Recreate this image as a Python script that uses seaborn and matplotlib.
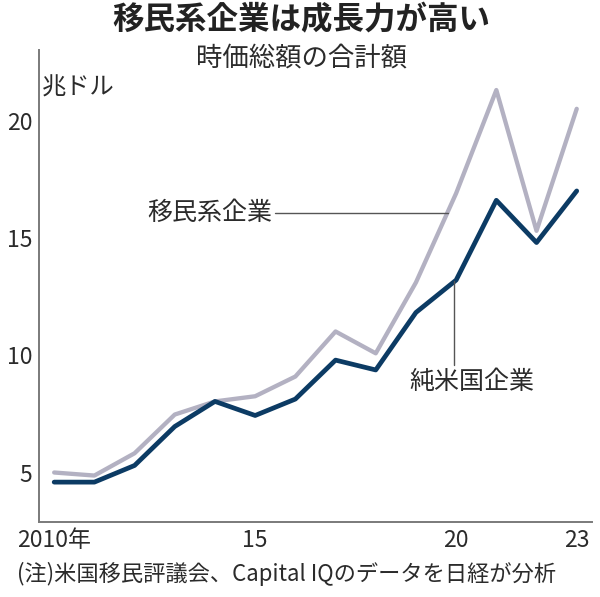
import numpy as np
import pandas as pd
import matplotlib
matplotlib.use("Agg")
import matplotlib.pyplot as plt
import seaborn as sns

years = list(range(2010, 2024))
immigrant = [5.0, 4.87, 5.82, 7.47, 8.03, 8.25, 9.09, 11.01, 10.08, 13.10, 16.9, 21.3, 15.3, 20.5]
native = [4.59, 4.59, 5.30, 6.96, 8.03, 7.43, 8.13, 9.79, 9.37, 11.82, 13.2, 16.6, 14.8, 17.0]
series_names = ["移民系企業", "純米国企業"]
tick_years = [2010, 2015, 2020, 2023]
tick_labels = ["2010年", "15", "20", "23"]
y_ticks = [5, 10, 15, 20]

df = pd.DataFrame({
    "year": years * 2,
    "value": immigrant + native,
    "group": [series_names[0]] * len(years) + [series_names[1]] * len(years),
})

sns.set_style("white")
plt.rcParams['font.family'] = ['Noto Sans CJK JP', 'DejaVu Sans']
text_col = "#2b2b2b"
gray = "#b3b1c2"
navy = "#0c3b64"

fig = plt.figure(figsize=(6, 5.97), dpi=100)
ax = fig.add_axes([0.0655, 0.126, 0.9205, 0.79])

sns.lineplot(data=df, x="year", y="value", hue="group",
             palette={series_names[0]: gray, series_names[1]: navy},
             hue_order=series_names, legend=False, ax=ax)
ax.lines[0].set_linewidth(3.1)
ax.lines[1].set_linewidth(3.4)

ax.set_xlim(2009.63, 2023.37)
ax.set_ylim(2.9, 23.0)
ax.set_xlabel("")
ax.set_ylabel("")

for s in ["top", "right"]:
    ax.spines[s].set_visible(False)
for s in ["left", "bottom"]:
    ax.spines[s].set_color("#7a7a7a")
    ax.spines[s].set_linewidth(1.4)

ax.set_xticks(years)
ax.set_xticklabels([tick_labels[tick_years.index(y)] if y in tick_years else "" for y in years],
                   fontsize=16.5, color=text_col)
ax.set_yticks(y_ticks)
ax.set_yticklabels([str(v) for v in y_ticks], fontsize=16.5, color=text_col)
ax.tick_params(axis="x", direction="in", length=4.5, width=1.1, color="#7a7a7a", pad=5)
ax.tick_params(axis="y", direction="in", length=4.5, width=1.1, color="#7a7a7a", pad=5)

# annotations
ax.plot([2015.5, 2019.8], [16.06, 16.06], color="#555555", lw=1.0)
ax.text(2015.42, 16.06, series_names[0], ha="right", va="center", fontsize=18, color=text_col)
ax.plot([2019.95, 2019.95], [13.15, 9.6], color="#555555", lw=1.0)
ax.text(2020.39, 8.85, series_names[1], ha="center", va="center", fontsize=18, color=text_col)

fig.text(0.07, 0.853, "兆ドル", ha="left", va="center", fontsize=17.5, color=text_col)
fig.text(0.502, 0.966, "移民系企業は成長力が高い", ha="center", va="center",
         fontsize=22.7, fontweight="bold", color="#222222")
fig.text(0.502, 0.903, "時価総額の合計額", ha="center", va="center", fontsize=19, color=text_col)
fig.text(0.028, 0.039, "(注)米国移民評議会、Capital IQのデータを日経が分析", ha="left", va="center",
         fontsize=16.0, color=text_col)

fig.savefig("out.png", dpi=100)
